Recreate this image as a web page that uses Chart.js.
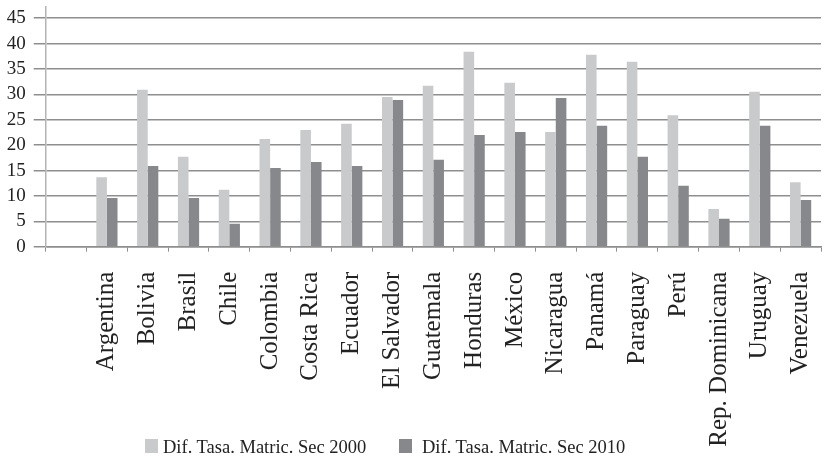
<!DOCTYPE html>
<html>
<head>
<meta charset="utf-8">
<script src="https://cdn.jsdelivr.net/npm/chart.js@4/dist/chart.umd.min.js"></script>
<style>
  html, body { margin: 0; padding: 0; background: #fff; }
  #wrap { position: relative; width: 827px; height: 457px; }
  #legend { position: absolute; left: 0; top: 0; width: 827px; height: 457px; pointer-events: none;
            font-family: "Liberation Serif", "Times New Roman", serif; font-size: 18.5px; color: #222; }
  .lg-box { position: absolute; width: 13px; height: 14px; }
  .lg-text { position: absolute; line-height: 18.5px; white-space: nowrap; }
</style>
</head>
<body>
<div id="wrap">
  <canvas id="c" width="827" height="457"></canvas>
  <div id="legend"></div>
</div>
<script>
// Countries (the leading empty slot leaves a gap after the value axis)
const countries = ['', 'Argentina', 'Bolivia', 'Brasil', 'Chile', 'Colombia', 'Costa Rica', 'Ecuador',
  'El Salvador', 'Guatemala', 'Honduras', 'México', 'Nicaragua', 'Panamá', 'Paraguay', 'Perú',
  'Rep. Dominicana', 'Uruguay', 'Venezuela'];

const seriesNames = ['Dif. Tasa. Matric. Sec 2000', 'Dif. Tasa. Matric. Sec 2010'];

const values2000 = [null, 13.7, 30.9, 17.7, 11.2, 21.2, 23.0, 24.2, 29.5, 31.7, 38.4, 32.3, 22.6,
  37.8, 36.4, 25.9, 7.4, 30.5, 12.7];
const values2010 = [null, 9.6, 15.9, 9.6, 4.5, 15.5, 16.7, 15.9, 28.9, 17.1, 22.0, 22.6, 29.3,
  23.8, 17.7, 12.0, 5.5, 23.8, 9.2];

const yTicks = [0, 5, 10, 15, 20, 25, 30, 35, 40, 45];

const serif = "'Liberation Serif', 'Times New Roman', serif";
const colors = ['#c9cacc', '#87888c'];
const gridColor = '#8e8e8e';

function build() {
  const chart = new Chart(document.getElementById('c'), {
    type: 'bar',
    data: {
      labels: countries,
      datasets: [
        { label: seriesNames[0], data: values2000, backgroundColor: colors[0] },
        { label: seriesNames[1], data: values2010, backgroundColor: colors[1] }
      ]
    },
    options: {
      responsive: false,
      animation: false,
      devicePixelRatio: 1,
      datasets: { bar: { categoryPercentage: 0.52, barPercentage: 1.0 } },
      layout: { padding: { left: 0, right: 6, top: 7, bottom: 0 } },
      plugins: { legend: { display: false }, tooltip: { enabled: false } },
      scales: {
        x: {
          offset: true,
          grid: { display: true, drawOnChartArea: false, offset: true, tickLength: 5, color: gridColor, lineWidth: 1 },
          border: { display: true, color: gridColor, width: 1.5 },
          ticks: {
            autoSkip: false, maxRotation: 90, minRotation: 90, padding: 20,
            color: '#222', font: { family: serif, size: 25 }
          },
          afterFit: (s) => { s.height = 210.3; s.paddingLeft = 0; s.paddingRight = 0; }
        },
        y: {
          min: 0, max: 47.2,
          grid: { color: gridColor, lineWidth: 1.5, tickLength: 12, drawTicks: true },
          border: { display: true, color: '#b4b4b4', width: 1.5 },
          ticks: { stepSize: 5, padding: 8, color: '#222', font: { family: serif, size: 19 } },
          afterBuildTicks: (s) => { s.ticks = yTicks.map(v => ({ value: v })); },
          afterFit: (s) => { s.width = 45.7; s.paddingTop = 0; s.paddingBottom = 0; }
        }
      }
    }
  });

  // Legend under the category labels, built from the chart's datasets
  const legendPos = [{ box: 145, text: 163 }, { box: 399, text: 422 }];
  const legendEl = document.getElementById('legend');
  chart.data.datasets.forEach((ds, i) => {
    const b = document.createElement('div');
    b.className = 'lg-box';
    b.style.left = legendPos[i].box + 'px';
    b.style.top = '439px';
    b.style.background = ds.backgroundColor;
    legendEl.appendChild(b);
    const t = document.createElement('div');
    t.className = 'lg-text';
    t.style.left = legendPos[i].text + 'px';
    t.style.top = '437.5px';
    t.textContent = ds.label;
    legendEl.appendChild(t);
  });
}

Promise.all([
  document.fonts.load("25px 'Liberation Serif'"),
  document.fonts.load("19px 'Liberation Serif'")
]).then(build, build);
</script>
</body>
</html>
